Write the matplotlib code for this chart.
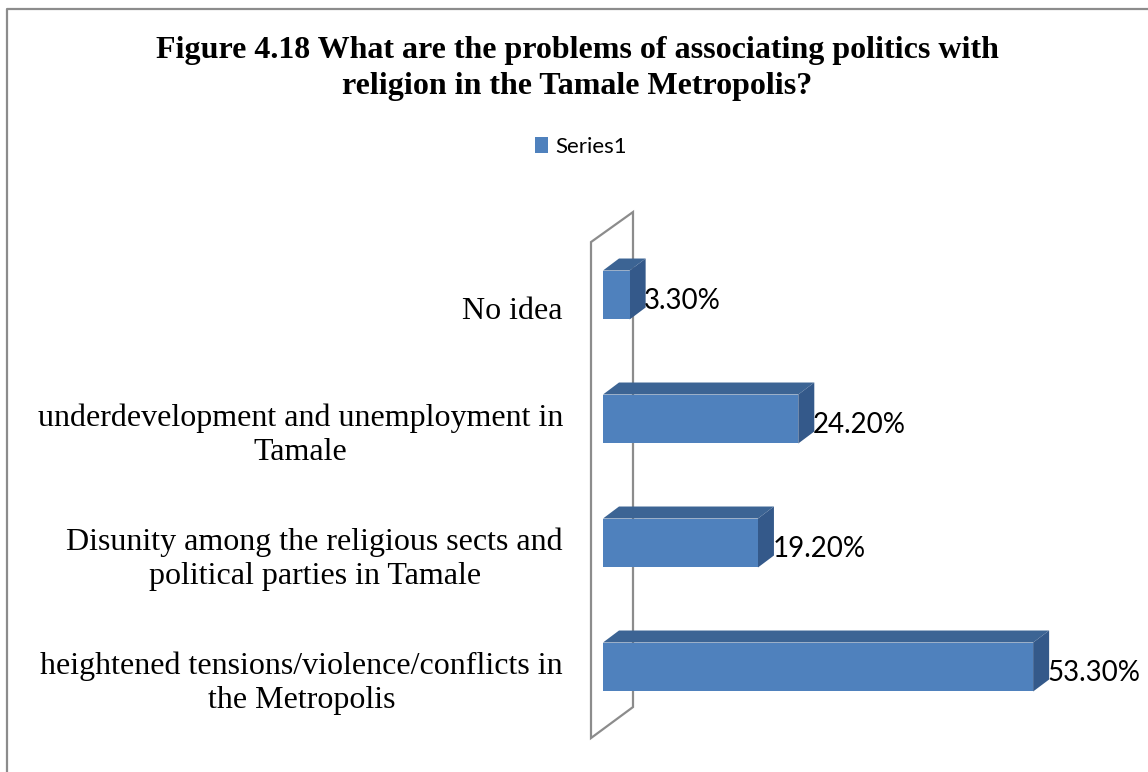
import matplotlib.pyplot as plt
from matplotlib.patches import Polygon, Rectangle, Patch
from matplotlib.lines import Line2D

categories = ["heightened tensions/violence/conflicts in\nthe Metropolis",
              "Disunity among the religious sects and\npolitical parties in Tamale",
              "underdevelopment and unemployment in\nTamale",
              "No idea"]
values = [53.3, 19.2, 24.2, 3.3]
value_labels = ["53.30%", "19.20%", "24.20%", "3.30%"]
series_name = "Series1"
title = "Figure 4.18 What are the problems of associating politics with\nreligion in the Tamale Metropolis?"

W, H = 1148, 772
fig = plt.figure(figsize=(W / 100, H / 100), dpi=100)

# pixel scale of the plot area
px_x = 8.07     # px per percent
px_y = 124.0    # px per category step
x0_px, y0_px = 603, 105 - 0.8 * px_y
xmax = (W - x0_px) / px_x
ax = fig.add_axes([x0_px / W, y0_px / H, (W - x0_px) / W, 4.6 * px_y / H])
ax.set_xlim(0, xmax)
ax.set_ylim(-0.8, 3.8)
ax.axis('off')

front = '#4F81BD'
top = '#3C6494'
side = '#34598A'

# back wall of the 3d frame (outline only)
wx0, wx1 = -12 / px_x, 30 / px_x
wall = Polygon([(wx0, -0.573), (wx1, -0.323), (wx1, 3.669), (wx0, 3.427)],
               closed=True, fill=False, edgecolor='#8C8C8C', lw=1.6, zorder=1,
               clip_on=False)
ax.add_patch(wall)

# 3d bars: front face, top face, side face
bh = 0.395
dx, dy = 16 / px_x, 12 / px_y
for i, v in enumerate(values):
    yb, yt = i - bh / 2, i + bh / 2
    ax.add_patch(Polygon([(0, yt), (v, yt), (v + dx, yt + dy), (dx, yt + dy)],
                         closed=True, facecolor=top, edgecolor='none', zorder=3))
    ax.add_patch(Polygon([(v, yb), (v + dx, yb + dy), (v + dx, yt + dy), (v, yt)],
                         closed=True, facecolor=side, edgecolor='none', zorder=3))
    ax.add_patch(Rectangle((0, yb), v, bh, facecolor=front, edgecolor='none', zorder=4))
    ax.text(v + dx - 0.2, i - 0.05, value_labels[i], ha='left', va='center',
            fontsize=20, family='Lato', color='black', zorder=5, clip_on=False)
    ax.text(-40 / px_x, i - 0.13, categories[i], ha='right', va='center',
            fontsize=23, family='Liberation Serif', linespacing=1.24,
            multialignment='center', zorder=5)

fig.text(577 / W, 1 - 68.5 / H, title, ha='center', va='center',
         fontsize=23, fontweight='bold', family='Liberation Serif', linespacing=1.33)

fig.legend(handles=[Patch(facecolor=front, edgecolor='none', label=series_name)],
           loc='center', bbox_to_anchor=(581 / W, 1 - 147 / H), frameon=False,
           prop={'family': 'Lato', 'size': 16}, handlelength=0.6, handleheight=0.75,
           handletextpad=0.35)

# chart border (top and left edges visible)
fig.add_artist(Line2D([7 / W, 7 / W, 1], [0, 1 - 9 / H, 1 - 9 / H],
                      transform=fig.transFigure, color='#8C8C8C', lw=1.6))

fig.savefig('out.png', dpi=100)
